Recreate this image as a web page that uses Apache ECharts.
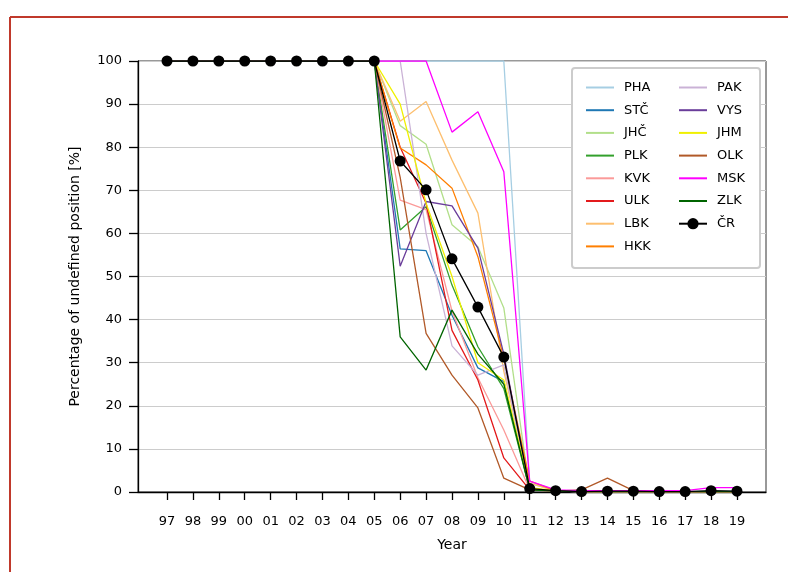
<!DOCTYPE html>
<html><head><meta charset="utf-8">
<script src="https://cdn.jsdelivr.net/npm/echarts@6/dist/echarts.min.js"></script>
<style>html,body{margin:0;padding:0;background:#fff}#c{width:788px;height:572px}</style>
</head><body><div id="c"></div>
<script>
const years = ['97','98','99','00','01','02','03','04','05','06','07','08','09','10','11','12','13','14','15','16','17','18','19'];
const yTicks = [0,10,20,30,40,50,60,70,80,90,100];
const seriesNames = ['PHA','STČ','JHČ','PLK','KVK','ULK','LBK','HKK','PAK','VYS','JHM','OLK','MSK','ZLK','ČR'];
const colors = ['#a6cee3','#1f78b4','#b2df8a','#33a02c','#fb9a99','#e31a1c','#fdbf6f','#ff7f00','#cab2d6','#6a3d9a','#f0f000','#b15928','#ff00ff','#006400','#000000'];
const head = [100,100,100,100,100,100,100,100,100];
const PHA = head.concat([100,100,100,100,100,2.0,0.3,0.2,0.2,0.2,0.1,0.1,0.2,0.2]);
const STC = head.concat([56.4,56.0,41.0,28.8,25.6,0.5,0.2,0.1,0.1,0.1,0.1,0.1,0.1,0.1]);
const JHC = head.concat([85.0,80.7,62.0,56.9,42.7,0.5,0.2,0.1,0.1,0.1,0.1,0.1,0.1,0.1]);
const PLK = head.concat([60.8,66.2,48.0,33.7,24.0,0.5,0.2,0.1,0.1,0.1,0.1,0.1,0.1,0.1]);
const KVK = head.concat([67.7,65.5,42.0,26.5,14.4,0.5,0.2,0.1,0.1,0.1,0.1,0.1,0.1,0.1]);
const ULK = head.concat([80.0,67.0,37.5,26.0,7.9,0.5,0.2,0.1,0.1,0.1,0.1,0.1,0.1,0.1]);
const LBK = head.concat([86.0,90.6,77.0,64.7,28.0,2.0,0.3,0.1,0.1,0.1,0.1,0.1,0.1,0.1]);
const HKK = head.concat([79.8,75.9,70.5,54.6,31.0,2.5,0.3,0.1,0.1,0.1,0.1,0.1,0.1,0.1]);
const PAK = head.concat([100,60.0,33.9,27.1,29.5,0.5,0.2,0.1,0.1,0.1,0.1,0.1,0.1,0.1]);
const VYS = head.concat([52.4,67.4,66.4,56.6,32.0,0.5,0.2,0.1,0.1,0.1,0.1,0.1,0.1,0.1]);
const JHM = head.concat([90.0,67.0,50.0,30.0,26.0,1.0,0.3,0.1,0.1,0.1,0.1,0.1,0.1,0.1]);
const OLK = head.concat([73.0,36.8,27.1,19.5,3.2,0.5,0.2,0.5,3.2,0.3,0.1,0.1,0.1,0.1]);
const MSK = head.concat([100,100,83.5,88.2,74.3,2.5,0.5,0.3,0.3,0.3,0.3,0.3,1.0,1.0]);
const ZLK = head.concat([36.0,28.3,42.2,32.0,25.0,0.5,0.2,0.1,0.1,0.1,0.1,0.1,0.1,0.1]);
const CR  = head.concat([76.8,70.1,54.1,42.9,31.3,0.8,0.3,0.1,0.2,0.2,0.1,0.1,0.3,0.2]);
const allData = [PHA,STC,JHC,PLK,KVK,ULK,LBK,HKK,PAK,VYS,JHM,OLK,MSK,ZLK,CR];

const idx = years.map((_, i) => i);
const font = 'DejaVu Sans';
const series = allData.map((arr, k) => {
  const isCR = k === allData.length - 1;
  return {
    name: seriesNames[k], type: 'line',
    data: arr.map((v, i) => [i, v]),
    symbol: isCR ? 'circle' : 'none', symbolSize: 11, showSymbol: isCR,
    lineStyle: { color: colors[k], width: 1.3 },
    itemStyle: { color: colors[k] },
    z: isCR ? 5 : 2, animation: false
  };
});
const legendItem = n => n === 'ČR' ? { name: n } : { name: n, itemStyle: { opacity: 0 } };
const legendCommon = {
  orient: 'vertical', top: 81, itemWidth: 28, itemHeight: 14, itemGap: 9.7, padding: 0, z: 20,
  textStyle: { color: '#000', fontSize: 13, fontFamily: font, padding: [0,0,0,5] }
};
const chart = echarts.init(document.getElementById('c'));
chart.setOption({
  animation: false,
  textStyle: { fontFamily: font },
  grid: { left: 138, right: 22, top: 61, bottom: 80, show: true, borderColor: '#333', borderWidth: 1 },
  xAxis: {
    type: 'value', min: -1.12, max: 23.12,
    axisLine: { show: true, onZero: false, lineStyle: { color: '#000', width: 1.3 } },
    axisTick: { show: true, length: 8, customValues: idx, lineStyle: { color: '#000', width: 1.3 } },
    axisLabel: { customValues: idx, formatter: v => years[Math.round(v)], color: '#000', fontSize: 13, fontFamily: font, margin: 23 },
    splitLine: { show: false },
    name: 'Year', nameLocation: 'middle', nameGap: 46,
    nameTextStyle: { color: '#000', fontSize: 14, fontFamily: font }
  },
  yAxis: {
    type: 'value', min: 0, max: 100, interval: 10,
    axisLine: { show: true, onZero: false, lineStyle: { color: '#000', width: 1.3 } },
    axisTick: { show: true, length: 9, lineStyle: { color: '#000', width: 1.3 } },
    axisLabel: { color: '#000', fontSize: 13, fontFamily: font, margin: 16, formatter: v => yTicks.includes(v) ? String(v) : '' },
    splitLine: { show: true, lineStyle: { color: '#cccccc', width: 1 } },
    name: 'Percentage of undefined position [%]', nameLocation: 'middle', nameGap: 56,
    nameTextStyle: { color: '#000', fontSize: 14, fontFamily: font }
  },
  legend: [
    Object.assign({ left: 585, data: seriesNames.slice(0, 8).map(legendItem) }, legendCommon),
    Object.assign({ left: 678, data: seriesNames.slice(8).map(legendItem) }, legendCommon)
  ],
  graphic: [
    { type: 'rect', shape: { x: 572, y: 68, width: 188, height: 200, r: 3 }, style: { fill: '#fff', stroke: '#cccccc', lineWidth: 2 }, z: 10 },
    { type: 'line', shape: { x1: 10, y1: 17, x2: 788, y2: 17 }, style: { stroke: '#c0392b', lineWidth: 2 } },
    { type: 'line', shape: { x1: 10, y1: 17, x2: 10, y2: 572 }, style: { stroke: '#c0392b', lineWidth: 2 } }
  ],
  series: series
});
</script></body></html>
